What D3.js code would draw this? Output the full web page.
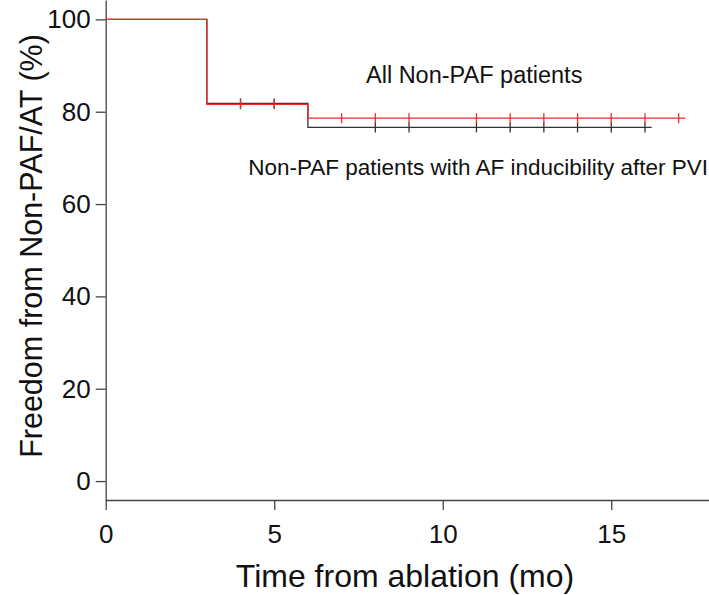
<!DOCTYPE html>
<html lang="en">
<head>
<meta charset="UTF-8">
<title>Freedom from Non-PAF/AT</title>
<script src="https://d3js.org/d3.v7.min.js"></script>
<style>
  body { margin: 0; background: #fff; }
  svg text { font-family: "Liberation Sans", Arial, sans-serif; fill: #111; }
</style>
</head>
<body>
<svg id="chart" width="709" height="595"></svg>
<script>
// tick labels
var timeTicks = [0, 5, 10, 15];
var survTicks = [0, 20, 40, 60, 80, 100];

// All Non-PAF patients (red)
var allTimes = [0, 3, 6, 17.2];
var allSurv = [100, 81.6, 78.6, 78.6];
var allCensor = [4, 5, 7, 8, 9, 11, 12, 13, 14, 15, 16, 17];

// Non-PAF patients with AF inducibility after PVI (black)
var inducTimes = [0, 3, 6, 16.2];
var inducSurv = [100, 81.8, 76.6, 76.6];
var inducCensor = [4, 5, 8, 9, 11, 12, 13, 14, 15, 16];

var svg = d3.select("#chart");

var x = d3.scaleLinear().domain([0, 17.9]).range([105.7, 709]);
var y = d3.scaleLinear().domain([-4.1, 104.2]).range([500, 0]);

// axes
var xAxis = d3.axisBottom(x).tickValues(timeTicks).tickSize(10).tickSizeOuter(0).tickPadding(15);
var yAxis = d3.axisLeft(y).tickValues(survTicks).tickSize(10).tickSizeOuter(0).tickPadding(5);

var gx = svg.append("g").attr("transform", "translate(0,500)").call(xAxis);
var gy = svg.append("g").attr("transform", "translate(105.7,0)").call(yAxis);

[gx, gy].forEach(function(g) {
  g.selectAll("path, line").attr("stroke", "#444").attr("stroke-width", 1.3);
  g.selectAll("text").style("font-size", "26px").attr("fill", "#111");
});

// step value lookup
function valueAt(times, surv, t) {
  var i = d3.bisectRight(times, t) - 1;
  return surv[Math.max(0, i)];
}

function drawCurve(times, surv, censor, color) {
  var pts = times.map(function(t, i) { return [t, surv[i]]; });
  var line = d3.line()
    .x(function(d) { return x(d[0]); })
    .y(function(d) { return y(d[1]); })
    .curve(d3.curveStepAfter);

  svg.append("path")
    .datum(pts)
    .attr("d", line)
    .attr("fill", "none")
    .attr("stroke", color)
    .attr("stroke-width", 1.3);

  svg.selectAll(null)
    .data(censor)
    .enter().append("line")
    .attr("x1", function(d) { return x(d); })
    .attr("x2", function(d) { return x(d); })
    .attr("y1", function(d) { return y(valueAt(times, surv, d)) - 5; })
    .attr("y2", function(d) { return y(valueAt(times, surv, d)) + 5; })
    .attr("stroke", color)
    .attr("stroke-width", 1.3);
}

drawCurve(inducTimes, inducSurv, inducCensor, "#333");
drawCurve(allTimes, allSurv, allCensor, "#ec2b2b");

// annotations
svg.append("text")
  .attr("x", 366).attr("y", 83)
  .style("font-size", "23.5px")
  .text("All Non-PAF patients");

svg.append("text")
  .attr("x", 708).attr("y", 175)
  .attr("text-anchor", "end")
  .style("font-size", "22.5px")
  .text("Non-PAF patients with AF inducibility after PVI");

// axis titles
svg.append("text")
  .attr("x", 405).attr("y", 587)
  .attr("text-anchor", "middle")
  .style("font-size", "32px")
  .text("Time from ablation (mo)");

svg.append("text")
  .attr("transform", "translate(42,246) rotate(-90)")
  .attr("text-anchor", "middle")
  .style("font-size", "30.5px")
  .text("Freedom from Non-PAF/AT (%)");
</script>
</body>
</html>
